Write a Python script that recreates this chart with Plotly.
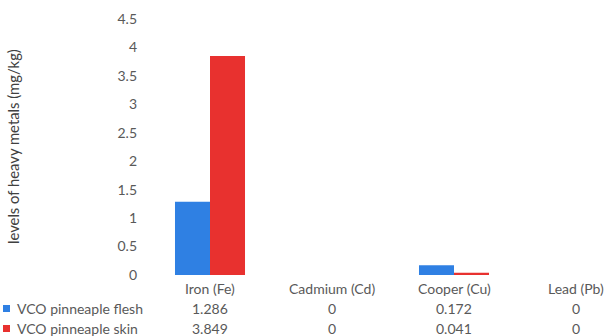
import plotly.graph_objects as go

categories = ["Iron (Fe)", "Cadmium (Cd)", "Cooper (Cu)", "Lead (Pb)"]
series_names = ["VCO pinneaple flesh", "VCO pinneaple skin"]
flesh = [1.286, 0, 0.172, 0]
skin = [3.849, 0, 0.041, 0]
flesh_labels = ["1.286", "0", "0.172", "0"]
skin_labels = ["3.849", "0", "0.041", "0"]
y_ticks = [0, 0.5, 1, 1.5, 2, 2.5, 3, 3.5, 4, 4.5]

BLUE = "#2F80E3"
RED = "#E8312F"
GREY = "#595959"
FONT = "Lato"
FS = 14

xpos = list(range(len(categories)))

fig = go.Figure()
fig.add_trace(go.Bar(x=xpos, y=flesh, name=series_names[0], marker_color=BLUE,
                     marker_line_width=0))
fig.add_trace(go.Bar(x=xpos, y=skin, name=series_names[1], marker_color=RED,
                     marker_line_width=0))

W, H = 604, 336
ML, MR, MT, MB = 149, 0, 19, 61
plot_w = W - ML - MR
cat_px = 122.0

fig.update_layout(
    width=W, height=H,
    margin=dict(l=ML, r=MR, t=MT, b=MB, pad=0),
    paper_bgcolor="white", plot_bgcolor="white",
    barmode="group", bargap=0.426, bargroupgap=0,
    showlegend=False,
    font=dict(family=FONT, size=FS, color=GREY),
)
fig.update_xaxes(range=[-0.5, -0.5 + plot_w / cat_px], showticklabels=False,
                 showgrid=False, zeroline=False, showline=False)
fig.update_yaxes(range=[0, 4.5], tickvals=y_ticks,
                 ticktext=[("%g" % v) for v in y_ticks],
                 showgrid=False, zeroline=False, showline=False,
                 ticklabelstandoff=11, tickfont=dict(size=FS, color=GREY))

ann = []
# data table: category header row and one row per series
rows = [(categories, -13), (flesh_labels, -33), (skin_labels, -53)]
for labels, dy in rows:
    for i, t in enumerate(labels):
        ann.append(dict(x=xpos[i], y=0, xref="x", yref="paper", text=t,
                        showarrow=False, xanchor="center", yanchor="middle",
                        yshift=dy, font=dict(size=FS, color=GREY)))

shapes = []
for name, color, dy in [(series_names[0], BLUE, -33), (series_names[1], RED, -53)]:
    ann.append(dict(x=0, y=0, xref="paper", yref="paper", text=name,
                    showarrow=False, xanchor="left", yanchor="middle",
                    xshift=15 - ML, yshift=dy, font=dict(size=FS, color=GREY)))
    shapes.append(dict(type="rect", xref="paper", yref="paper",
                       xsizemode="pixel", ysizemode="pixel",
                       xanchor=0, yanchor=0,
                       x0=3 - ML, x1=10 - ML, y0=dy - 4, y1=dy + 3,
                       fillcolor=color, line_width=0))

# y-axis title
ann.append(dict(x=0, y=0.5, xref="paper", yref="paper",
                text="levels of heavy metals (mg/kg)", textangle=-90,
                showarrow=False, xanchor="center", yanchor="middle",
                xshift=13 - ML, font=dict(size=14.8, color="#404040")))

fig.update_layout(annotations=ann, shapes=shapes)
fig.write_html("out.html")
